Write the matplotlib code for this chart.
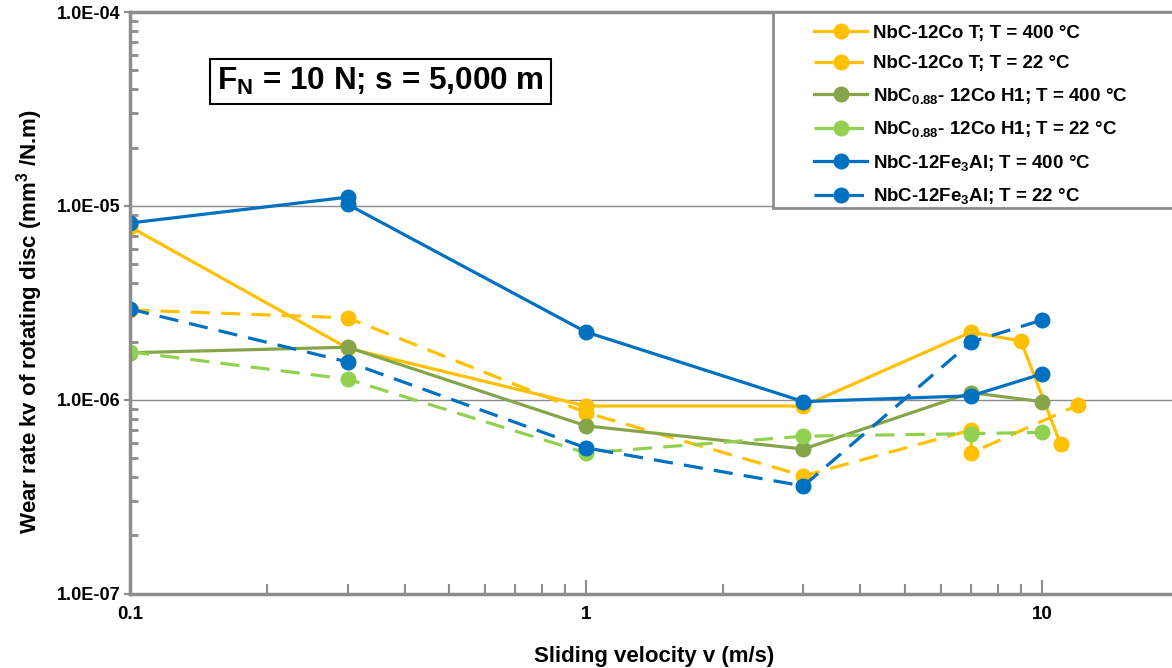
import matplotlib
matplotlib.use("Agg")
import matplotlib.pyplot as plt
from matplotlib.ticker import LogLocator, NullFormatter, FixedLocator
from matplotlib.patches import Rectangle

plt.rcParams['font.family'] = ['Liberation Sans', 'DejaVu Sans']
plt.rcParams['mathtext.fontset'] = 'custom'
plt.rcParams['mathtext.rm'] = 'Liberation Sans:bold'
plt.rcParams['mathtext.bf'] = 'Liberation Sans:bold'
plt.rcParams['mathtext.it'] = 'Liberation Sans:bold'
plt.rcParams['mathtext.default'] = 'bf'

# ---- data ----
co_400_v = [0.1, 0.3, 1, 3, 7, 9, 11]
co_400_k = [7.8e-6, 1.85e-6, 9.3e-7, 9.3e-7, 2.24e-6, 2.01e-6, 5.9e-7]

co_22_v = [0.1, 0.3, 1, 3, 7, 7, 12]
co_22_k = [2.91e-6, 2.65e-6, 8.6e-7, 4.06e-7, 7.0e-7, 5.33e-7, 9.4e-7]

h1_400_v = [0.1, 0.3, 1, 3, 7, 10]
h1_400_k = [1.75e-6, 1.87e-6, 7.35e-7, 5.58e-7, 1.09e-6, 9.8e-7]

h1_22_v = [0.1, 0.3, 1, 3, 7, 10]
h1_22_k = [1.77e-6, 1.28e-6, 5.33e-7, 6.5e-7, 6.7e-7, 6.8e-7]

fe_400_v = [0.1, 0.3, 0.3, 1, 3, 7, 10]
fe_400_k = [8.17e-6, 1.11e-5, 1.02e-5, 2.24e-6, 9.8e-7, 1.05e-6, 1.36e-6]

fe_22_v = [0.1, 0.3, 1, 3, 7, 10]
fe_22_k = [2.94e-6, 1.57e-6, 5.66e-7, 3.6e-7, 1.99e-6, 2.58e-6]

labels = ["NbC-12Co T; T = 400 °C",
          "NbC-12Co T; T = 22 °C",
          "NbC$_{0.88}$- 12Co H1; T = 400 °C",
          "NbC$_{0.88}$- 12Co H1; T = 22 °C",
          "NbC-12Fe$_{3}$Al; T = 400 °C",
          "NbC-12Fe$_{3}$Al; T = 22 °C"]

y_ticks = [1e-7, 1e-6, 1e-5, 1e-4]
y_ticklabels = ["1.0E-07", "1.0E-06", "1.0E-05", "1.0E-04"]
x_ticks = [0.1, 1, 10]
x_ticklabels = ["0.1", "1", "10"]

YELLOW = "#FFC000"
OLIVE = "#86A44A"
LGREEN = "#92D050"
BLUE = "#0070C0"
GRAY = "#8C8C8C"
DASH = (0, (6, 3.5))

fig = plt.figure(figsize=(11.72, 6.68), dpi=100)
ax = fig.add_axes([0.111, 0.111, 0.895, 0.871])

series = [
    (co_400_v, co_400_k, YELLOW, '-'),
    (co_22_v, co_22_k, YELLOW, DASH),
    (h1_400_v, h1_400_k, OLIVE, '-'),
    (h1_22_v, h1_22_k, LGREEN, DASH),
    (fe_400_v, fe_400_k, BLUE, '-'),
    (fe_22_v, fe_22_k, BLUE, DASH),
]
for (v, k, c, ls), lab in zip(series, labels):
    ax.plot(v, k, color=c, linestyle=ls, linewidth=2.3, marker='o',
            markersize=10.5, markerfacecolor=c, markeredgecolor=c, label=lab,
            dash_capstyle='butt')

ax.set_xscale('log')
ax.set_yscale('log')
ax.set_xlim(0.1, 20)
ax.set_ylim(1e-7, 1e-4)

ax.yaxis.set_major_locator(FixedLocator(y_ticks))
ax.set_yticklabels(y_ticklabels)
ax.xaxis.set_major_locator(FixedLocator(x_ticks))
ax.set_xticklabels(x_ticklabels)
ax.yaxis.set_minor_locator(LogLocator(base=10, subs=range(2, 10)))
ax.xaxis.set_minor_locator(LogLocator(base=10, subs=range(2, 10)))
ax.yaxis.set_minor_formatter(NullFormatter())
ax.xaxis.set_minor_formatter(NullFormatter())

ax.tick_params(axis='y', which='minor', direction='in', length=6, width=2, color=GRAY)
ax.tick_params(axis='y', which='major', direction='out', length=4, width=1.5, color=GRAY,
               labelsize=13, pad=3)
ax.tick_params(axis='x', which='minor', direction='in', length=7, width=1.5, color=GRAY)
ax.tick_params(axis='x', which='major', direction='in', length=10, width=1.5, color=GRAY,
               labelsize=13.5, pad=9)
for lab in ax.get_xticklabels() + ax.get_yticklabels():
    lab.set_fontweight('bold')

ax.grid(True, which='major', axis='y', color=GRAY, linewidth=1)
ax.set_axisbelow(True)

for s in ax.spines.values():
    s.set_color(GRAY)
    s.set_linewidth(2.5)

ax.set_xlabel("Sliding velocity v (m/s)", fontsize=16, fontweight='bold', labelpad=16)
ax.set_ylabel("Wear rate kv of rotating disc (mm$^{3}$ /N.m)", fontsize=16,
              fontweight='bold')
ax.yaxis.set_label_coords(-0.081, 0.468)

ax.text(0.083, 0.881, "F$_{N}$ = 10 N; s = 5,000 m", transform=ax.transAxes,
        fontsize=22.7, fontweight='bold', va='center', ha='left',
        bbox=dict(boxstyle='square,pad=0.22', facecolor='white', edgecolor='black',
                  linewidth=1.5))

# legend frame (extends past the right edge like the reference)
ax.add_patch(Rectangle((0.613, 0.663), 0.5, 0.337, transform=ax.transAxes,
                       facecolor='white', edgecolor=GRAY, linewidth=2,
                       zorder=4, clip_on=False))
leg = ax.legend(loc='upper left', bbox_to_anchor=(0.647, 0.988),
                prop={'weight': 'bold', 'size': 13.5}, frameon=False,
                handlelength=2.8, borderpad=0.3, labelspacing=0.72,
                handletextpad=0.35, borderaxespad=0)
leg.set_zorder(5)

fig.savefig("out.png", dpi=100)
